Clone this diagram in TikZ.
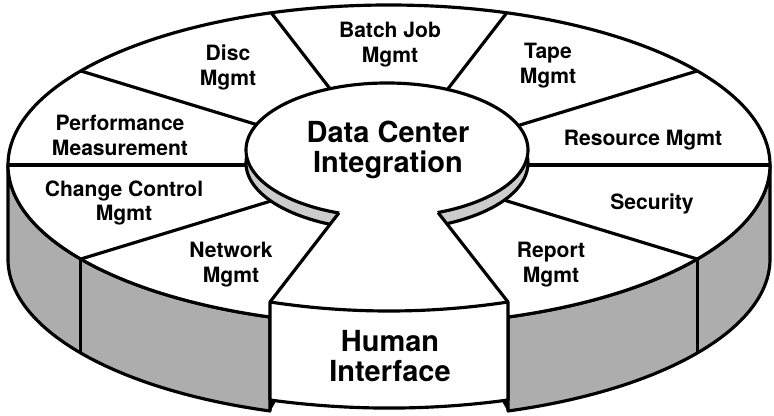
\documentclass[tikz,border=0pt]{standalone}
\usepackage{fontspec}
\setmainfont{TeX Gyre Heros}
\begin{document}
\begin{tikzpicture}[line width=1.8pt, line join=round,
  wallfill/.style={fill=black!32, draw=black},
  topface/.style={fill=white, draw=black},
  rimband/.style={fill=black!20, draw=black},
  sectortext/.style={align=center, font=\bfseries\fontsize{12}{14.2}\selectfont},
  hubtext/.style={align=center, font=\bfseries\fontsize{16.5}{17}\selectfont}]
\useasboundingbox (-7.78,-5.02) rectangle (7.70,3.30);

\filldraw[wallfill] (180:7.62 and 3.2) arc[start angle=180, end angle=251.8, x radius=7.62, y radius=3.2] -- ++(0,-1.88) arc[start angle=251.8, end angle=180, x radius=7.62, y radius=3.2] -- cycle;
\filldraw[wallfill] (288.2:7.62 and 3.2) arc[start angle=288.2, end angle=360, x radius=7.62, y radius=3.2] -- ++(0,-1.88) arc[start angle=360, end angle=288.2, x radius=7.62, y radius=3.2] -- cycle;
\draw (216:7.62 and 3.2) -- ++(0,-1.88);
\draw (324:7.62 and 3.2) -- ++(0,-1.88);

\filldraw[topface] (0,0) ellipse[x radius=7.62, y radius=3.2];
\foreach \a in {0,36,72,108,144,180,216,324}
  \draw (\a:7.62 and 3.2) -- (0,0);

\filldraw[rimband] (-0.04,0.04) ellipse[x radius=2.82, y radius=1.34];
\filldraw[topface] (-0.04,0.3) ellipse[x radius=2.82, y radius=1.34];

\coordinate (hil) at (-2.38,-2.74);
\coordinate (hir) at (2.38,-2.74);
\coordinate (cutl) at (-1.0,-0.955);
\coordinate (cutr) at (0.98,-0.95);
\fill[white] (hil) -- (cutl) -- (-0.9,-0.8) -- (0.86,-0.8) -- (cutr) -- (hir) .. controls (0.8,-2.98) and (-0.8,-2.98) .. (hil) -- cycle;
\filldraw[topface] (hil) .. controls (-0.8,-2.98) and (0.8,-2.98) .. (hir) -- (2.38,-4.70) .. controls (0.8,-4.915) and (-0.8,-4.915) .. (-2.38,-4.70) -- cycle;
\fill (-2.38,-4.66) -- (-2.27,-4.74) -- (-2.38,-4.94) -- cycle;
\fill (2.38,-4.66) -- (2.27,-4.74) -- (2.38,-4.94) -- cycle;
\draw (hil) -- (cutl);
\draw (hir) -- (cutr);

\node[hubtext] (dci) at (-0.02,0.3) {Data Center\\Integration};
\node[hubtext] (human) at (0.02,-3.82) {Human\\Interface};
\node[sectortext] (disc) at (-3.22,1.96) {Disc\\Mgmt};
\node[sectortext] (batch) at (0.02,2.4) {Batch Job\\Mgmt};
\node[sectortext] (tape) at (3.18,1.98) {Tape\\Mgmt};
\node[sectortext] (resource) at (5.08,0.5) {Resource Mgmt};
\node[sectortext] (security) at (5.26,-0.78) {Security};
\node[sectortext] (report) at (3.24,-2.0) {Report\\Mgmt};
\node[sectortext] (network) at (-3.16,-2.0) {Network\\Mgmt};
\node[sectortext] (change) at (-5.3,-0.76) {Change Control\\Mgmt};
\node[sectortext] (perf) at (-5.38,0.6) {Performance\\Measurement};
\end{tikzpicture}
\end{document}
